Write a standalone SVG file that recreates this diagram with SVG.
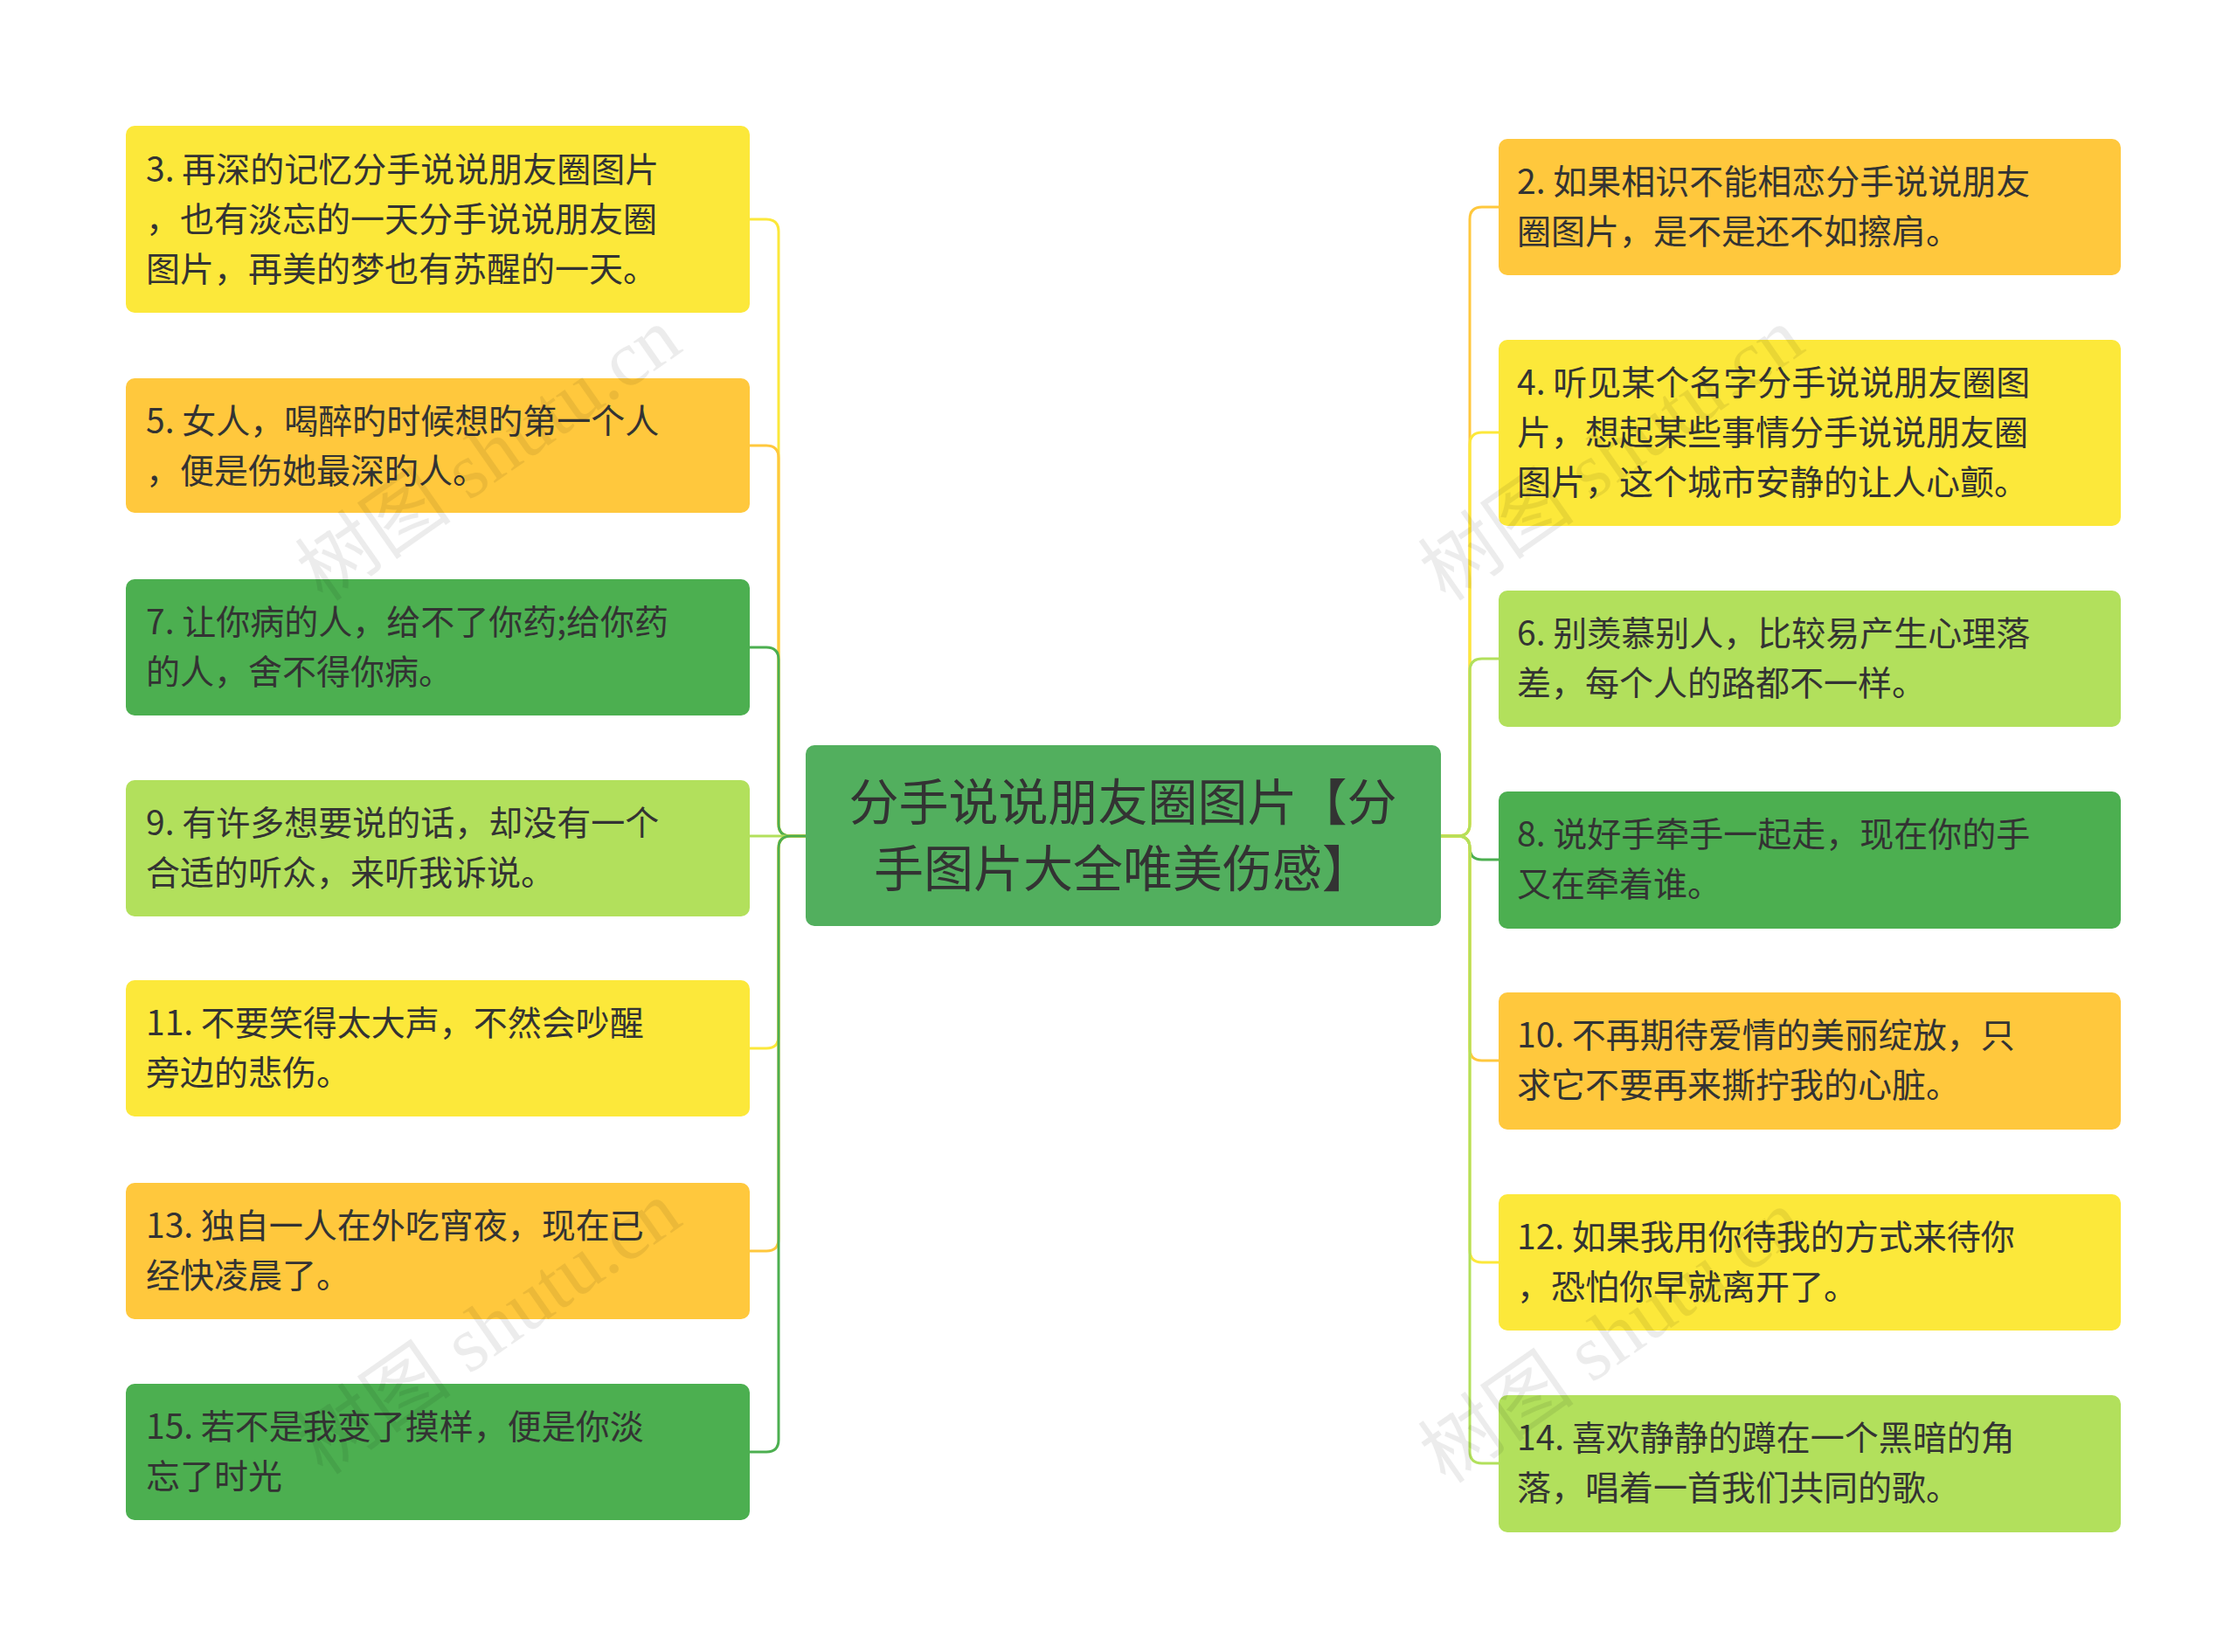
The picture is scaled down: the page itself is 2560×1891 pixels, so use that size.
<svg xmlns="http://www.w3.org/2000/svg" width="2560" height="1891" viewBox="0 0 2560 1891">
<style>
.t{font-family:"Noto Sans CJK SC","Noto Sans",sans-serif;font-size:39px;fill:#333}
.c{font-family:"Noto Sans CJK SC","Noto Sans",sans-serif;font-size:57px;fill:#333;text-anchor:middle}
.w{font-family:"Liberation Serif","Noto Sans CJK SC",serif;font-size:90px;fill:#000;opacity:0.07}
.l{fill:none;stroke-width:3}
</style>
<rect width="2560" height="1891" fill="#fff"/>
<g id="connectors">
<path class="l" stroke="#FCE83A" d="M922 957H905Q891 957 891 943V265Q891 251 877 251H858"/>
<path class="l" stroke="#FFC83D" d="M922 957H905Q891 957 891 943V524Q891 510 877 510H858"/>
<path class="l" stroke="#4CAF50" d="M922 957H905Q891 957 891 943V755Q891 741 877 741H858"/>
<path class="l" stroke="#B2E05C" d="M922 957H858"/>
<path class="l" stroke="#FCE83A" d="M922 957H905Q891 957 891 971V1186Q891 1200 877 1200H858"/>
<path class="l" stroke="#FFC83D" d="M922 957H905Q891 957 891 971V1418Q891 1432 877 1432H858"/>
<path class="l" stroke="#4CAF50" d="M922 957H905Q891 957 891 971V1648Q891 1662 877 1662H858"/>
<path class="l" stroke="#FFC83D" d="M1649 957H1668Q1682 957 1682 943V251Q1682 237 1696 237H1715"/>
<path class="l" stroke="#FCE83A" d="M1649 957H1668Q1682 957 1682 943V509Q1682 495 1696 495H1715"/>
<path class="l" stroke="#B2E05C" d="M1649 957H1668Q1682 957 1682 943V768Q1682 754 1696 754H1715"/>
<path class="l" stroke="#4CAF50" d="M1649 957H1668Q1682 957 1682 971V970Q1682 984 1696 984H1715"/>
<path class="l" stroke="#FFC83D" d="M1649 957H1668Q1682 957 1682 971V1200Q1682 1214 1696 1214H1715"/>
<path class="l" stroke="#FCE83A" d="M1649 957H1668Q1682 957 1682 971V1431Q1682 1445 1696 1445H1715"/>
<path class="l" stroke="#B2E05C" d="M1649 957H1668Q1682 957 1682 971V1661Q1682 1675 1696 1675H1715"/>
</g>
<g id="center"><rect x="922" y="853" width="727" height="207" rx="10" fill="#52AF5E"/>
<text class="c" x="1285" y="939">分手说说朋友圈图片【分</text><text class="c" x="1285" y="1015">手图片大全唯美伤感】</text></g>
<g id="n3"><rect x="144" y="144" width="714" height="214" rx="10" fill="#FCE83A"/>
<text class="t" x="167" y="208">3. 再深的记忆分手说说朋友圈图片</text><text class="t" x="167" y="265">，也有淡忘的一天分手说说朋友圈</text><text class="t" x="167" y="322">图片，再美的梦也有苏醒的一天。</text></g>
<g id="n5"><rect x="144" y="433" width="714" height="154" rx="10" fill="#FFC83D"/>
<text class="t" x="167" y="496">5. 女人，喝醉旳时候想旳第一个人</text><text class="t" x="167" y="553">，便是伤她最深旳人。</text></g>
<g id="n7"><rect x="144" y="663" width="714" height="156" rx="10" fill="#4CAF50"/>
<text class="t" x="167" y="726">7. 让你病的人，给不了你药;给你药</text><text class="t" x="167" y="783">的人，舍不得你病。</text></g>
<g id="n9"><rect x="144" y="893" width="714" height="156" rx="10" fill="#B2E05C"/>
<text class="t" x="167" y="956">9. 有许多想要说的话，却没有一个</text><text class="t" x="167" y="1013">合适的听众，来听我诉说。</text></g>
<g id="n11"><rect x="144" y="1122" width="714" height="156" rx="10" fill="#FCE83A"/>
<text class="t" x="167" y="1185">11. 不要笑得太大声，不然会吵醒</text><text class="t" x="167" y="1242">旁边的悲伤。</text></g>
<g id="n13"><rect x="144" y="1354" width="714" height="156" rx="10" fill="#FFC83D"/>
<text class="t" x="167" y="1417">13. 独自一人在外吃宵夜，现在已</text><text class="t" x="167" y="1474">经快凌晨了。</text></g>
<g id="n15"><rect x="144" y="1584" width="714" height="156" rx="10" fill="#4CAF50"/>
<text class="t" x="167" y="1647">15. 若不是我变了摸样，便是你淡</text><text class="t" x="167" y="1704">忘了时光</text></g>
<g id="n2"><rect x="1715" y="159" width="712" height="156" rx="10" fill="#FFC83D"/>
<text class="t" x="1736" y="222">2. 如果相识不能相恋分手说说朋友</text><text class="t" x="1736" y="279">圈图片，是不是还不如擦肩。</text></g>
<g id="n4"><rect x="1715" y="389" width="712" height="213" rx="10" fill="#FCE83A"/>
<text class="t" x="1736" y="452">4. 听见某个名字分手说说朋友圈图</text><text class="t" x="1736" y="509">片，想起某些事情分手说说朋友圈</text><text class="t" x="1736" y="566">图片，这个城市安静的让人心颤。</text></g>
<g id="n6"><rect x="1715" y="676" width="712" height="156" rx="10" fill="#B2E05C"/>
<text class="t" x="1736" y="739">6. 别羡慕别人，比较易产生心理落</text><text class="t" x="1736" y="796">差，每个人的路都不一样。</text></g>
<g id="n8"><rect x="1715" y="906" width="712" height="157" rx="10" fill="#4CAF50"/>
<text class="t" x="1736" y="969">8. 说好手牵手一起走，现在你的手</text><text class="t" x="1736" y="1026">又在牵着谁。</text></g>
<g id="n10"><rect x="1715" y="1136" width="712" height="157" rx="10" fill="#FFC83D"/>
<text class="t" x="1736" y="1199">10. 不再期待爱情的美丽绽放，只</text><text class="t" x="1736" y="1256">求它不要再来撕拧我的心脏。</text></g>
<g id="n12"><rect x="1715" y="1367" width="712" height="156" rx="10" fill="#FCE83A"/>
<text class="t" x="1736" y="1430">12. 如果我用你待我的方式来待你</text><text class="t" x="1736" y="1487">，恐怕你早就离开了。</text></g>
<g id="n14"><rect x="1715" y="1597" width="712" height="157" rx="10" fill="#B2E05C"/>
<text class="t" x="1736" y="1660">14. 喜欢静静的蹲在一个黑暗的角</text><text class="t" x="1736" y="1717">落，唱着一首我们共同的歌。</text></g>
<g id="watermarks">
<text class="w" transform="translate(370 690) rotate(-35)">树图 shutu.cn</text>
<text class="w" transform="translate(1655 690) rotate(-35)">树图 shutu.cn</text>
<text class="w" transform="translate(370 1690) rotate(-35)">树图 shutu.cn</text>
<text class="w" transform="translate(1655 1700) rotate(-35)">树图 shutu.cn</text>
</g>
</svg>
